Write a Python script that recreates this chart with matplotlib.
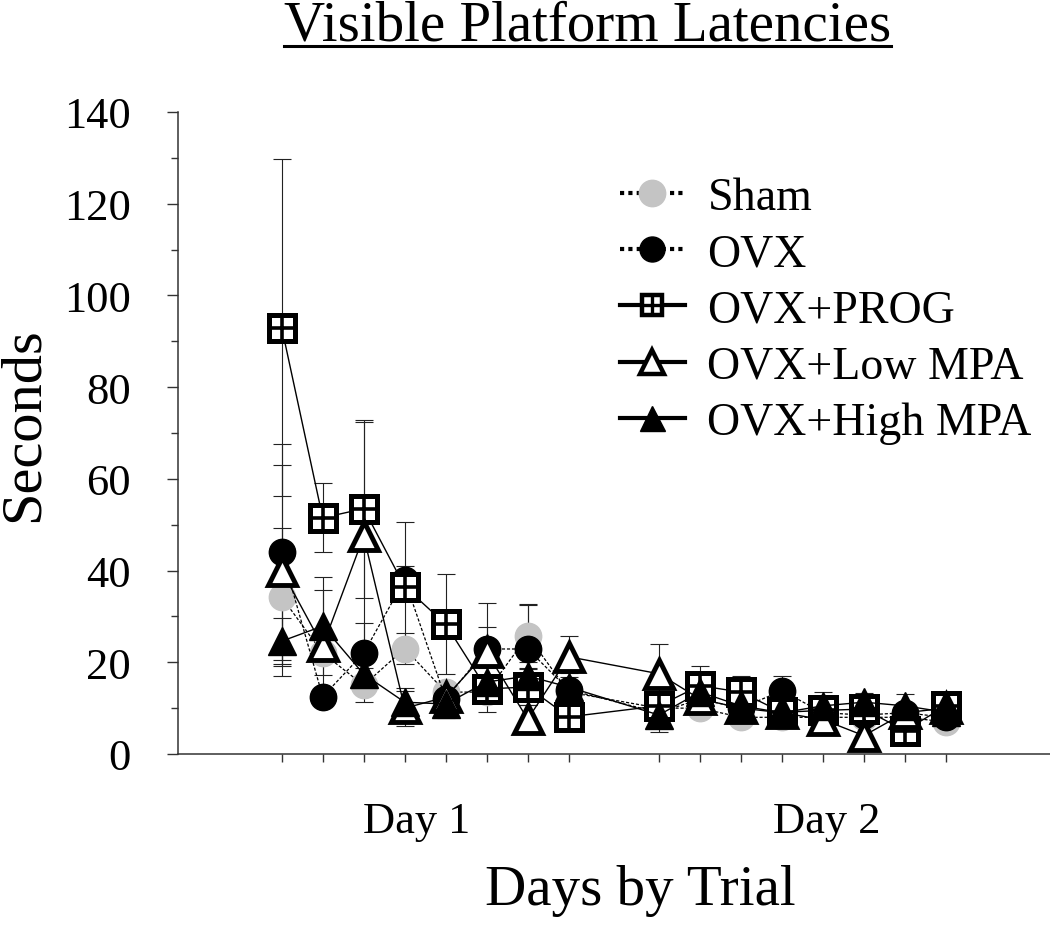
import numpy as np
import matplotlib
matplotlib.use("Agg")
import matplotlib.pyplot as plt
from matplotlib.lines import Line2D
from matplotlib.ticker import MultipleLocator, NullFormatter

plt.rcParams['font.family'] = ['Liberation Serif', 'DejaVu Serif']

# ---- data (seconds, mean and SE per trial; 8 trials on day 1, 8 on day 2) ----
trials_per_day = 8
day_labels = ["Day 1", "Day 2"]
series_names = ["Sham", "OVX", "OVX+PROG", "OVX+Low MPA", "OVX+High MPA"]

sham = [34.2, 22.0, 15.0, 23.0, 13.5, 13.5, 25.8, 13.5, 10.0, 10.0, 8.0, 8.0, 8.0, 8.0, 8.0, 7.0]
ovx = [44.0, 12.5, 22.0, 38.0, 12.0, 22.9, 22.9, 14.0, 9.0, 12.0, 10.0, 13.8, 9.0, 8.5, 9.0, 8.0]
prog = [93.0, 51.5, 53.5, 36.5, 28.3, 14.2, 14.6, 8.1, 10.5, 14.9, 13.5, 9.1, 9.5, 9.8, 5.1, 10.5]
low_mpa = [40.0, 23.5, 47.5, 10.0, 12.4, 22.2, 7.6, 21.2, 17.5, 12.0, 10.0, 9.0, 7.5, 4.0, 9.0, 10.0]
high_mpa = [24.6, 27.9, 17.4, 11.3, 10.9, 15.7, 17.0, 14.6, 8.5, 13.5, 10.5, 9.0, 10.5, 11.3, 10.5, 9.1]

sham_se = [15, 2, 3.7, 3.4, 2, 2, 7, 2, 2, 2, 1.5, 2, 2, 2, 2, 1.5]
ovx_se = [23.6, 2, 6.6, 3, 2, 10, 9.5, 2, 2, 2, 2, 3.2, 2, 2, 2, 1.5]
prog_se = [36.7, 7.5, 19.4, 14, 10.9, 5, 4, 2, 2, 4.3, 3.5, 2, 2, 2, 2, 2]
low_se = [23, 12.3, 25, 3.8, 3, 5.5, 3, 4.5, 6.5, 2, 2, 2, 2, 2, 2, 2]
high_se = [5, 10.7, 3, 3, 3, 3, 3, 3, 3.7, 2, 2, 2, 3, 2, 2.5, 2]

# ---- x positions: trials of day 2 follow a gap ----
day_gap = 1.2
x = np.concatenate([np.arange(trials_per_day),
                    np.arange(trials_per_day) + trials_per_day + day_gap])

W, H = 1050, 929
fig = plt.figure(figsize=(W / 100, H / 100), dpi=100)
ax = fig.add_axes([178 / W, (H - 755) / H, (W - 178) / W, (755 - 113) / H])

err_kw = dict(fmt='none', ecolor='#222222', elinewidth=0.8, capsize=6.5, capthick=0.8, zorder=1)
for vals, se in [(sham, sham_se), (ovx, ovx_se), (prog, prog_se), (low_mpa, low_se), (high_mpa, high_se)]:
    ax.errorbar(x, vals, yerr=se, **err_kw)

dash = (0, (2.5, 1.5))
gray = '#c4c4c4'
ax.plot(x, sham, linestyle=dash, color='black', lw=0.9, marker='o', ms=19,
        mfc=gray, mec=gray, zorder=3)
ax.plot(x, ovx, linestyle=dash, color='black', lw=0.9, marker='o', ms=19,
        mfc='black', mec='black', zorder=4)
ax.plot(x, prog, linestyle='-', color='black', lw=1.0, marker='s', ms=18.5,
        mfc='white', mec='black', mew=3.6, zorder=5)
ax.plot(x, prog, linestyle='none', marker='+', ms=16.5, mec='black', mew=2.6, zorder=5.1)
ax.plot(x, low_mpa, linestyle='-', color='black', lw=1.0, marker='^', ms=20,
        mfc='white', mec='black', mew=3.5, zorder=6)
ax.plot(x, high_mpa, linestyle='-', color='black', lw=1.0, marker='^', ms=20,
        mfc='black', mec='black', zorder=7)

# axes styling
x_left = (178 - 281.7) / 41.0
x_right = (1050 - 281.7) / 41.0
ax.set_xlim(x_left, x_right)
ax.set_ylim(0, 140)
for s in ['top', 'right']:
    ax.spines[s].set_visible(False)
for s in ['left', 'bottom']:
    ax.spines[s].set_linewidth(1.1)
    ax.spines[s].set_color('#333333')

ax.yaxis.set_major_locator(MultipleLocator(20))
ax.yaxis.set_minor_locator(MultipleLocator(10))
ax.tick_params(axis='y', which='major', direction='out', length=8, width=1.0,
               labelsize=32, pad=26, colors='#333333', labelcolor='black')
ax.tick_params(axis='y', which='minor', direction='out', length=5, width=1.0, colors='#333333')
ax.set_xticks(x)
ax.xaxis.set_major_formatter(NullFormatter())
ax.tick_params(axis='x', which='major', direction='out', length=6, width=1.0, colors='#333333')

# day labels
day_centers = [3.3, 3.3 + trials_per_day + day_gap + 0.8]
for cx, lab in zip(day_centers, day_labels):
    ax.text(cx, -0.1215, lab, transform=ax.get_xaxis_transform(), ha='center',
            va='baseline', fontsize=32)

fig.text(24 / W, 1 - 425 / H, "Seconds", rotation=90, ha='center', va='center', fontsize=42)
fig.text(640 / W, 1 - 905 / H, "Days by Trial", ha='center', va='baseline', fontsize=41)
title = fig.text(587.5 / W, 1 - 40.5 / H, "Visible Platform Latencies", ha='center',
                 va='baseline', fontsize=41)

# legend proxies (thicker handle lines as in the original)
leg_dot = (0, (1.0, 1.0))
proxies = [
    Line2D([], [], linestyle=leg_dot, color='black', lw=3, marker='o', ms=19, mfc=gray, mec=gray),
    Line2D([], [], linestyle=leg_dot, color='black', lw=3, marker='o', ms=18, mfc='black', mec='black'),
    (Line2D([], [], linestyle='-', color='black', lw=3, marker='s', ms=15, mfc='white', mec='black', mew=3.2),
     Line2D([], [], linestyle='none', marker='+', ms=13, mec='black', mew=2.4)),
    Line2D([], [], linestyle='-', color='black', lw=3, marker='^', ms=17, mfc='white', mec='black', mew=3.2),
    Line2D([], [], linestyle='-', color='black', lw=3, marker='^', ms=18, mfc='black', mec='black'),
]
leg = ax.legend(proxies, series_names,
                loc='upper left', bbox_to_anchor=(602 / W, 1 - 159 / H),
                bbox_transform=fig.transFigure, frameon=False, fontsize=33,
                handlelength=1.4, handletextpad=0.5,
                labelspacing=0.30, borderaxespad=0)

# underline for title
fig.canvas.draw()
bb = title.get_window_extent(renderer=fig.canvas.get_renderer())
uy = (H - 46.5) / H
fig.add_artist(Line2D([bb.x0 / W, bb.x1 / W], [uy, uy], color='black', lw=2.2,
                      transform=fig.transFigure))

fig.savefig("out.png", dpi=100)
